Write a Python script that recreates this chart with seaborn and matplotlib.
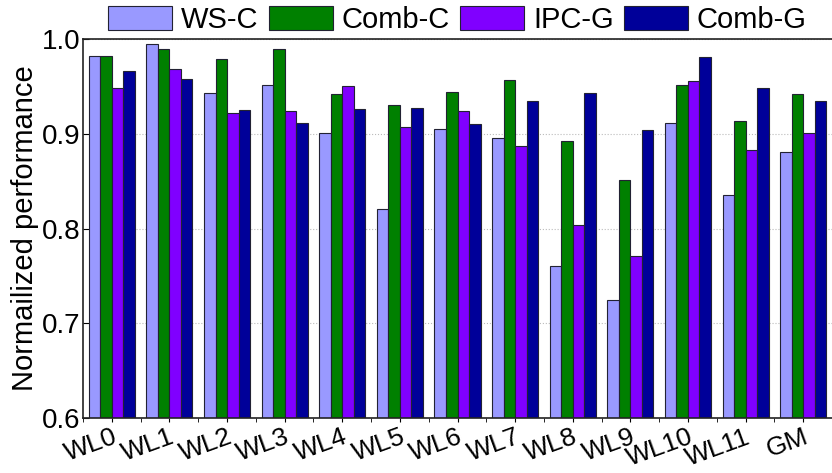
import matplotlib
matplotlib.use("Agg")
import matplotlib.pyplot as plt
from matplotlib.ticker import FixedLocator
import seaborn as sns
import pandas as pd

workloads = ["WL0", "WL1", "WL2", "WL3", "WL4", "WL5", "WL6",
             "WL7", "WL8", "WL9", "WL10", "WL11", "GM"]
schemes = ["WS-C", "Comb-C", "IPC-G", "Comb-G"]

ws_c = [0.982, 0.995, 0.943, 0.951, 0.901, 0.821, 0.905,
        0.896, 0.760, 0.725, 0.911, 0.835, 0.881]
comb_c = [0.982, 0.989, 0.979, 0.989, 0.942, 0.930, 0.944,
          0.957, 0.892, 0.851, 0.952, 0.914, 0.942]
ipc_g = [0.948, 0.968, 0.922, 0.924, 0.950, 0.907, 0.924,
         0.887, 0.804, 0.771, 0.956, 0.883, 0.901]
comb_g = [0.966, 0.958, 0.925, 0.911, 0.926, 0.927, 0.910,
          0.935, 0.943, 0.904, 0.981, 0.948, 0.935]

colors = ["#9999ff", "#008000", "#8000ff", "#000099"]

sns.set_style("ticks")
plt.rcParams['font.family'] = ['Liberation Sans', 'DejaVu Sans']
plt.rcParams['text.color'] = 'black'
plt.rcParams['axes.labelcolor'] = 'black'
plt.rcParams['xtick.color'] = 'black'
plt.rcParams['ytick.color'] = 'black'

rows = []
for name, vals in zip(schemes, [ws_c, comb_c, ipc_g, comb_g]):
    for wl, v in zip(workloads, vals):
        rows.append({"workload": wl, "scheme": name, "value": v})
df = pd.DataFrame(rows)

fig = plt.figure(figsize=(8.32, 4.73), dpi=100)
ax = fig.add_axes([0.0998, 0.116, 0.9002, 0.8015])

sns.barplot(data=df, x="workload", y="value", hue="scheme",
            order=workloads, hue_order=schemes, palette=colors,
            width=0.8, edgecolor="#222233", linewidth=0.8,
            saturation=1, ax=ax)

ax.set_ylim(0.6, 1.0)
ax.set_xlim(-0.5, len(workloads) - 0.5)
ax.set_yticks([0.6, 0.7, 0.8, 0.9, 1.0])
ax.set_yticklabels(["0.6", "0.7", "0.8", "0.9", "1.0"])
ax.set_ylabel("Normailized performance", fontsize=21, labelpad=2)
ax.set_xlabel("")

ax.yaxis.grid(True, linestyle=":", color="#bbbbbb", linewidth=0.8)
ax.set_axisbelow(True)

ax.tick_params(axis="y", direction="in", length=4, labelsize=20, pad=2)
ax.tick_params(axis="x", direction="out", length=3, labelsize=19, pad=2)
ax.xaxis.set_minor_locator(FixedLocator([i + 0.5 for i in range(-1, len(workloads))]))
ax.tick_params(axis="x", which="minor", direction="out", length=3)
plt.setp(ax.get_xticklabels(), rotation=20, ha="right", rotation_mode="anchor")

for side in ["left", "bottom", "top"]:
    ax.spines[side].set_color("#222222")
    ax.spines[side].set_linewidth(1.2)
ax.spines["right"].set_visible(False)

handles, labels = ax.get_legend_handles_labels()
ax.legend(handles, labels, loc="center", bbox_to_anchor=(0.5, 1.05),
          ncol=4, frameon=False, fontsize=21, handlelength=2.2,
          handleheight=0.9, handletextpad=0.3, columnspacing=0.35,
          borderaxespad=0)

fig.savefig("out.png", dpi=100)
